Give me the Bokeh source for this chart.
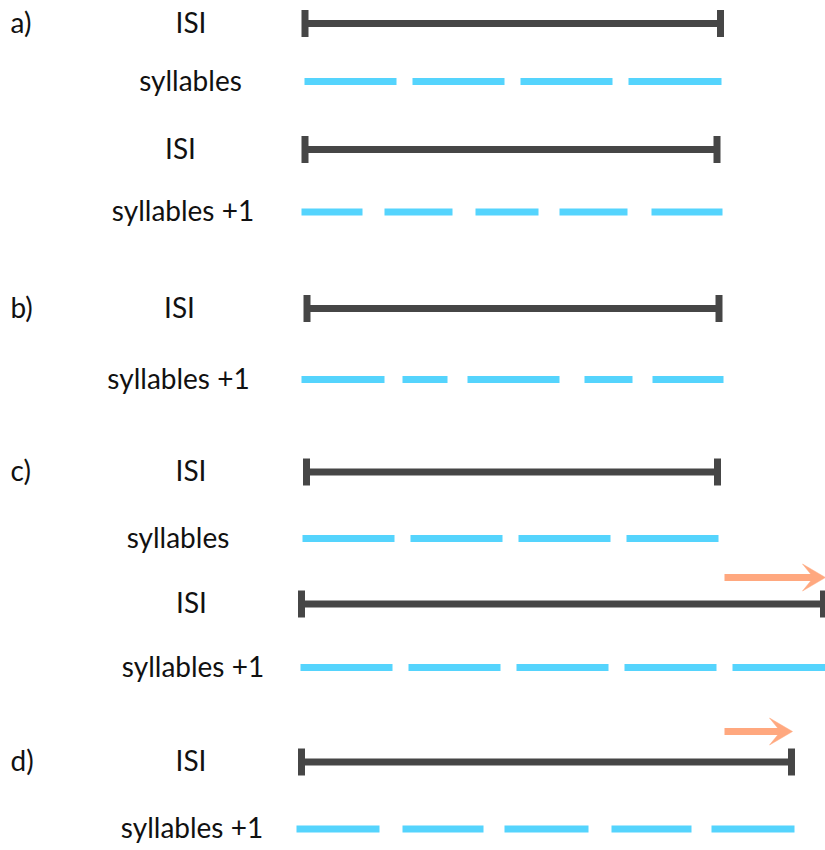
from bokeh.plotting import figure
from bokeh.models import Range1d
from bokeh.core.properties import value
from bokeh.embed import file_html
from bokeh.resources import INLINE

# ---- data (page pixel coordinates) ----
panel_labels = ["a)", "b)", "c)", "d)"]
panel_y = [23, 308, 471.5, 761.5]

row_texts = ["ISI", "syllables", "ISI", "syllables +1", "ISI", "syllables +1",
             "ISI", "syllables", "ISI", "syllables +1", "ISI", "syllables +1"]
row_text_x = [190.5, 190, 180, 182.5, 179, 178, 190.5, 177.5, 191, 192.5, 190.5, 191.5]
row_text_y = [23, 81, 149, 211.5, 308, 379, 471.5, 538, 603.5, 667, 761.5, 828.5]

isi_y = [23, 149, 308, 471.5, 603.5, 761.5]
isi_start = [304.5, 304.5, 306.5, 306, 301, 301]
isi_end = [720, 716.5, 718.5, 717, 823, 791]

syll_y = [81, 211.5, 379, 538, 667, 828.5]
syll_starts = [
    [304, 412, 520, 628],
    [301, 384, 475, 559, 651],
    [301, 402, 467, 584, 652],
    [302, 410, 518, 626],
    [300, 408, 516, 624, 732],
    [296, 402, 504, 611, 711],
]
syll_ends = [
    [396, 504, 612, 721],
    [362, 452, 538, 627, 722],
    [384, 447, 559, 632, 723],
    [394, 502, 610, 718],
    [392, 500, 608, 716, 825],
    [379, 483, 588, 691, 794],
]

arrow_y = [577, 731]
arrow_start = [724, 724]
arrow_end = [825, 792]

# ---- styles ----
DARK = "#464646"
BLUE = "#55D4FD"
ORANGE = "#FFA87F"
FONT = "Lato"
FS = "28px"
CAP_HALF = 13.5
HEAD_LEN = 23      # tip to back of barbs
HEAD_HALF = 13.5   # half width of head
HEAD_NOTCH = 12    # tip to notch

W, H = 825, 850
p = figure(width=W, height=H, output_backend="svg", toolbar_location=None,
           x_range=Range1d(0, W), y_range=Range1d(H, 0),
           min_border=0, outline_line_color=None)
p.axis.visible = False
p.grid.visible = False
p.background_fill_color = "white"
p.border_fill_color = "white"

# ISI bars
p.segment(x0=isi_start, y0=isi_y, x1=isi_end, y1=isi_y,
          line_color=DARK, line_width=7, line_cap="butt")
cap_x = isi_start + isi_end
cap_y = isi_y + isi_y
p.segment(x0=cap_x, y0=[y - CAP_HALF for y in cap_y], x1=cap_x,
          y1=[y + CAP_HALF for y in cap_y],
          line_color=DARK, line_width=7, line_cap="butt")

# syllable dashes
dx0, dx1, dy = [], [], []
for y, s, e in zip(syll_y, syll_starts, syll_ends):
    dx0 += s
    dx1 += e
    dy += [y] * len(s)
p.segment(x0=dx0, y0=dy, x1=dx1, y1=dy, line_color=BLUE, line_width=7,
          line_cap="butt")

# arrows: shaft + barbed head
p.segment(x0=arrow_start, y0=arrow_y, x1=[e - HEAD_NOTCH + 1 for e in arrow_end],
          y1=arrow_y, line_color=ORANGE, line_width=7, line_cap="butt")
hx, hy = [], []
for e, y in zip(arrow_end, arrow_y):
    hx.append([e, e - HEAD_LEN, e - HEAD_NOTCH, e - HEAD_LEN])
    hy.append([y, y - HEAD_HALF, y, y + HEAD_HALF])
p.patches(xs=hx, ys=hy, fill_color=ORANGE, line_color=ORANGE, line_width=0.5)

# texts
p.text(x=row_text_x, y=row_text_y, text=row_texts, text_align="center",
       text_baseline="alphabetic", y_offset=-2, text_font=value(FONT),
       text_font_size=FS, text_color="#111111")
p.text(x=[10] * len(panel_labels), y=panel_y, text=panel_labels, text_align="left",
       text_baseline="alphabetic", y_offset=-2, text_font=value(FONT),
       text_font_size=FS, text_color="#111111")

open("out.html", "w").write(file_html(p, INLINE))
